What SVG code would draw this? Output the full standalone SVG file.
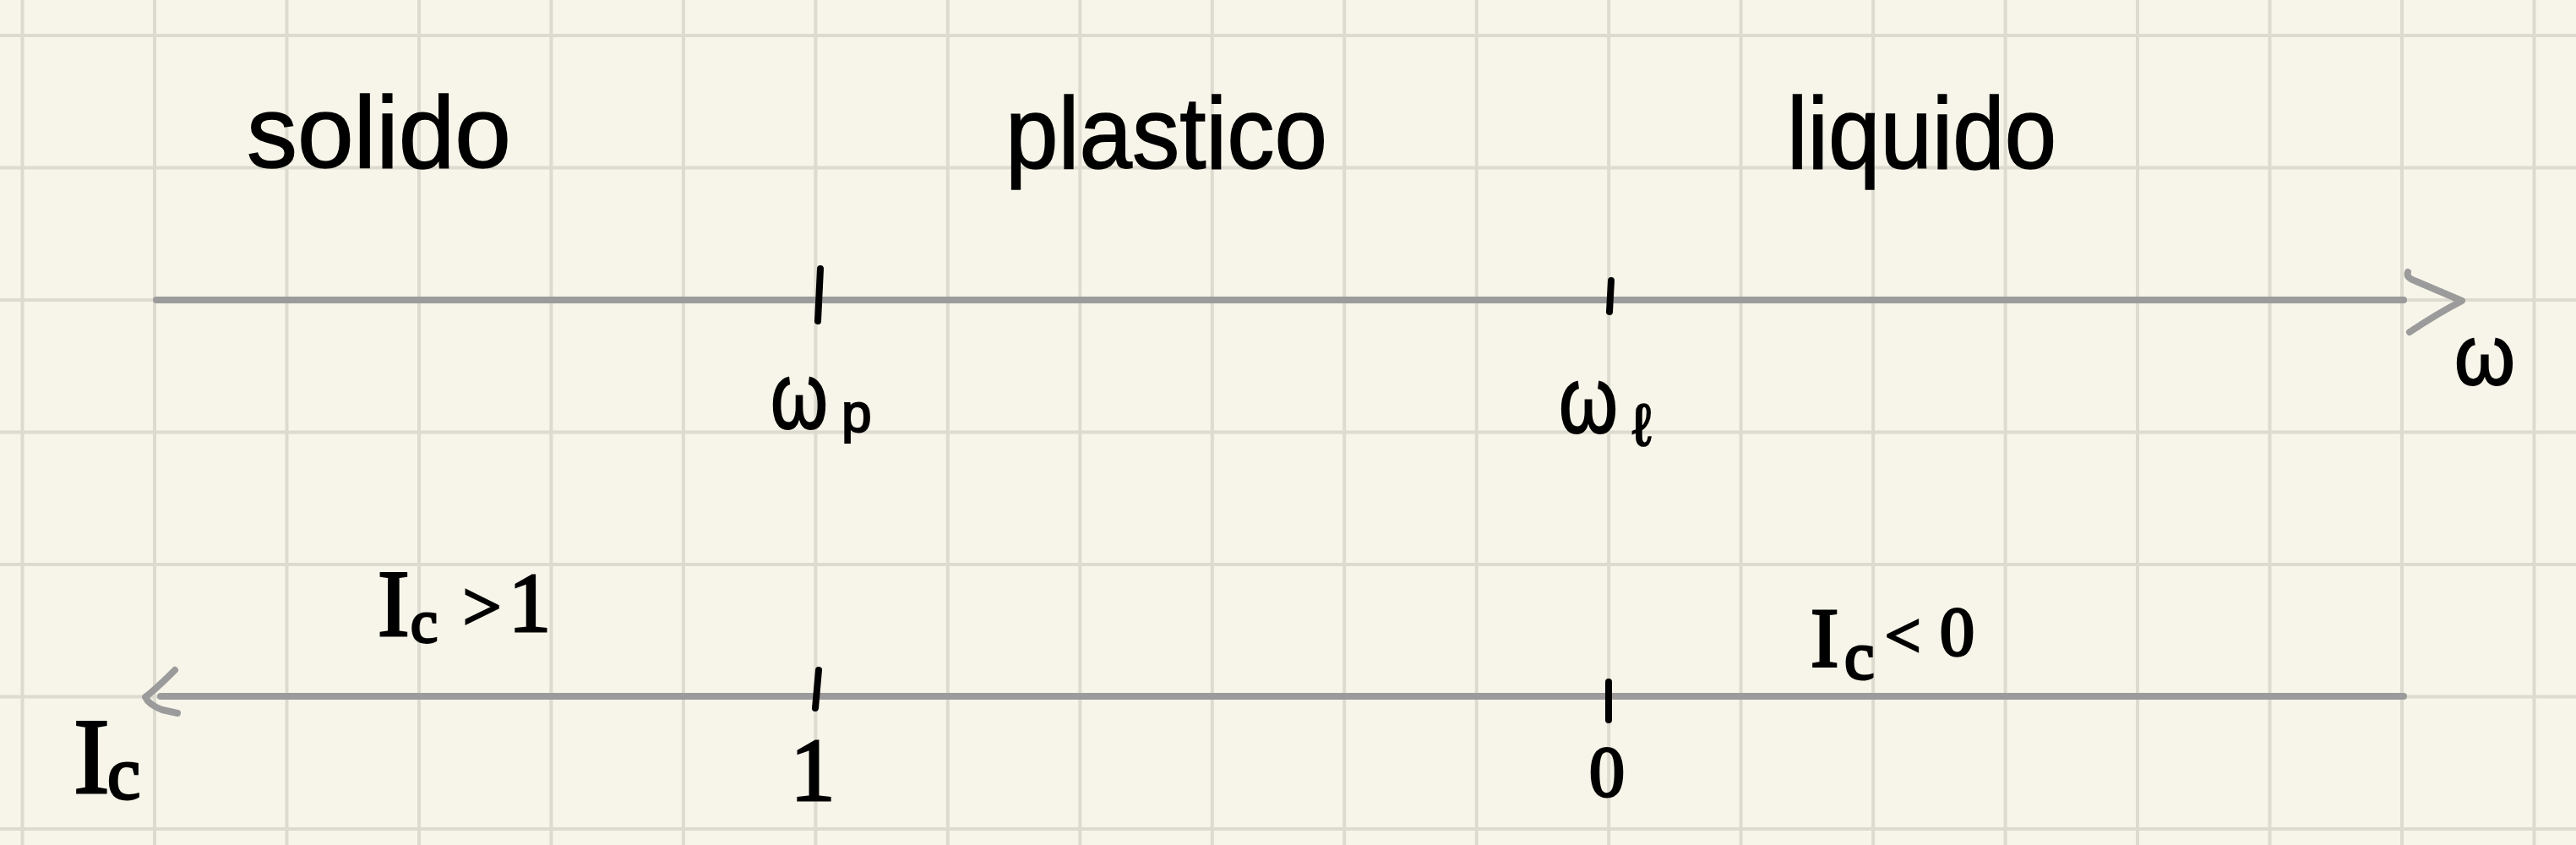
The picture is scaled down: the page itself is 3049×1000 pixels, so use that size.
<svg xmlns="http://www.w3.org/2000/svg" width="3049" height="1000" viewBox="0 0 3049 1000">
<style>
.grid{stroke:#dddbcf;stroke-width:4;fill:none}
.axis{stroke:#9b9b9b;stroke-width:8;fill:none;stroke-linecap:round;stroke-linejoin:round}
.tick{stroke:#000;stroke-width:8;stroke-linecap:round;fill:none}
.word{font-family:"Liberation Sans","DejaVu Sans",sans-serif;font-size:120px;fill:#000;stroke:#000;stroke-width:1.5}
.sym{font-family:"Liberation Sans","DejaVu Sans",sans-serif;fill:#000;stroke:#000;stroke-width:2}
.ser{font-family:"Liberation Serif","DejaVu Serif",serif;fill:#000;stroke:#000;stroke-width:3}
</style>
<rect x="0" y="0" width="3049" height="1000" fill="#f7f5e9"/>
<g id="grid">
<path class="grid" d="M26.5,0V1000M183,0V1000M339.5,0V1000M496,0V1000M652.4,0V1000M808.9,0V1000M965.4,0V1000M1121.8,0V1000M1278.3,0V1000M1434.8,0V1000M1591.2,0V1000M1747.7,0V1000M1904.2,0V1000M2060.6,0V1000M2217.1,0V1000M2373.6,0V1000M2530,0V1000M2686.5,0V1000M2843,0V1000M2999.5,0V1000M0,42H3049M0,198.5H3049M0,355H3049M0,511.5H3049M0,668H3049M0,824.5H3049M0,981H3049"/>
</g>
<g id="connectors">
<path id="axis-w" class="axis" d="M185,355H2845"/>
<path id="axis-w-head" class="axis" d="M2850,322C2848,327 2852,330 2860,333L2914,356Q2885,371 2852,393"/>
<path id="axis-ic" class="axis" d="M190,824H2845"/>
<path id="axis-ic-head" class="axis" d="M207,793Q185,815 172,825Q176,834 192,840L210,844"/>
</g>
<g id="tick-wp"><line class="tick" x1="971" y1="318" x2="968" y2="380"/></g>
<g id="tick-wl"><line class="tick" x1="1907" y1="332" x2="1905" y2="369"/></g>
<g id="tick-1"><line class="tick" x1="969" y1="793" x2="965" y2="838"/></g>
<g id="tick-0"><line class="tick" x1="1904" y1="807" x2="1904" y2="852"/></g>
<g id="solido"><text class="word" x="292" y="198" textLength="313" lengthAdjust="spacingAndGlyphs">solido</text></g>
<g id="plastico"><text class="word" x="1190" y="199" textLength="381" lengthAdjust="spacingAndGlyphs">plastico</text></g>
<g id="liquido"><text class="word" x="2115" y="199" textLength="319" lengthAdjust="spacingAndGlyphs">liquido</text></g>
<g id="label-w"><text class="sym" x="2905" y="455" font-size="100" textLength="72" lengthAdjust="spacingAndGlyphs">ω</text></g>
<g id="label-wp"><text class="sym" x="912" y="507" font-size="112" textLength="68" lengthAdjust="spacingAndGlyphs">ω</text><text class="sym" x="996" y="511" font-size="64">p</text></g>
<g id="label-wl"><text class="sym" x="1845" y="512" font-size="112" textLength="70" lengthAdjust="spacingAndGlyphs">ω</text><text class="sym" x="1932" y="527" font-size="70">ℓ</text></g>
<g id="label-ic"><text class="ser" x="87" y="938" font-size="128">I<tspan x="127" y="945" font-size="88">c</tspan></text></g>
<g id="label-ic-gt1"><text class="ser" x="447" y="752" font-size="113">I<tspan x="486" y="760" font-size="72">c</tspan><tspan x="548" y="745" font-size="80">&gt;</tspan><tspan x="602" y="747" font-size="100">1</tspan></text></g>
<g id="label-ic-lt0"><text class="ser" x="2143" y="788" font-size="100">I<tspan x="2183" y="803" font-size="80">c</tspan><tspan x="2231" y="777" font-size="75">&lt;</tspan><tspan x="2296" y="775" font-size="82">0</tspan></text></g>
<g id="label-1"><text class="ser" x="962" y="947" font-size="106" text-anchor="middle">1</text></g>
<g id="label-0"><text class="ser" x="1902" y="942" font-size="84" text-anchor="middle">0</text></g>
</svg>
